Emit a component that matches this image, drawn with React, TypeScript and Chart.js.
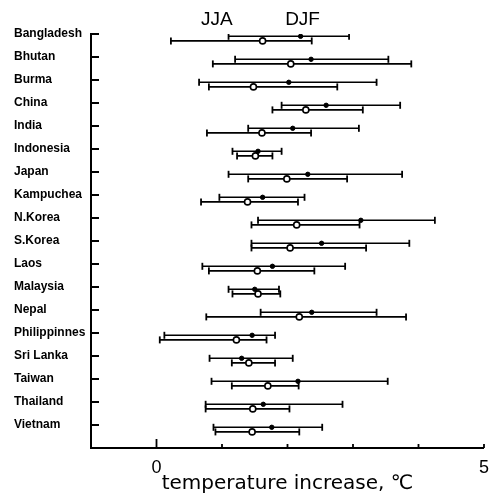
import React, { useEffect, useRef } from 'react';
import { Chart, registerables } from 'chart.js';

Chart.register(...registerables);

// Countries (top to bottom)
const countries = [
  'Bangladesh', 'Bhutan', 'Burma', 'China', 'India', 'Indonesia', 'Japan', 'Kampuchea',
  'N.Korea', 'S.Korea', 'Laos', 'Malaysia', 'Nepal', 'Philippinnes', 'Sri Lanka',
  'Taiwan', 'Thailand', 'Vietnam',
];

// JJA (summer) temperature increase: min / mean / max (°C)
const jjaMin = [0.22, 0.86, 0.80, 1.77, 0.77, 1.23, 1.40, 0.68, 1.45, 1.45, 0.80, 1.16, 0.76, 0.05, 1.15, 1.15, 0.75, 0.90];
const jjaMean = [1.62, 2.05, 1.48, 2.28, 1.61, 1.51, 1.99, 1.39, 2.14, 2.04, 1.54, 1.55, 2.18, 1.22, 1.41, 1.70, 1.47, 1.46];
const jjaMax = [2.37, 3.89, 2.76, 3.15, 2.36, 1.77, 2.91, 2.16, 3.10, 3.20, 2.41, 1.89, 3.81, 1.68, 1.81, 2.17, 2.03, 2.18];

// DJF (winter) temperature increase: min / mean / max (°C)
const djfMin = [1.10, 1.20, 0.65, 1.91, 1.40, 1.16, 1.10, 0.96, 1.55, 1.45, 0.70, 1.10, 1.59, 0.12, 0.81, 0.84, 0.75, 0.87];
const djfMean = [2.20, 2.36, 2.02, 2.59, 2.08, 1.55, 2.31, 1.62, 3.12, 2.52, 1.77, 1.50, 2.37, 1.46, 1.30, 2.16, 1.63, 1.76];
const djfMax = [2.94, 3.54, 3.36, 3.72, 3.09, 1.91, 3.75, 2.26, 4.25, 3.86, 2.88, 1.87, 3.36, 1.81, 2.08, 3.53, 2.84, 2.53];

// Axis labelling
const xShownTicks = [0, 5];
const seasonNames = ['JJA', 'DJF'];
const xTitle = 'temperature increase, \u2103';

const JJA_OFF = 0.3;
const DJF_OFF = 0.1;

function rangePoints(mins: number[], maxs: number[], off: number) {
  const pts: { x: number; y: number | null }[] = [];
  countries.forEach((_, i) => {
    pts.push({ x: mins[i], y: i + off });
    pts.push({ x: maxs[i], y: i + off });
    pts.push({ x: maxs[i], y: null });
  });
  return pts;
}

function meanPoints(means: number[], off: number) {
  return countries.map((_, i) => ({ x: means[i], y: i + off }));
}

const decorPlugin = {
  id: 'decor',
  afterDraw(chart: any) {
    const { ctx, scales } = chart;
    const xs = scales.x;
    const ys = scales.y;
    ctx.save();
    ctx.strokeStyle = '#000';
    ctx.lineWidth = 1.8;
    ctx.beginPath();
    // inward y ticks
    countries.forEach((_, i) => {
      const py = ys.getPixelForValue(i);
      ctx.moveTo(xs.left, py);
      ctx.lineTo(xs.left + 8, py);
    });
    ctx.stroke();
    // inward x ticks
    ctx.beginPath();
    xs.ticks.forEach((t: any) => {
      if (t.value < 0) return;
      const px = xs.getPixelForValue(t.value);
      const len = t.value === 0 ? 9 : 4;
      ctx.moveTo(px, ys.bottom);
      ctx.lineTo(px, ys.bottom - len);
    });
    ctx.stroke();
    // season labels
    ctx.fillStyle = '#000';
    ctx.font = '19px "Liberation Sans", Arial, sans-serif';
    ctx.textAlign = 'center';
    ctx.textBaseline = 'middle';
    const seasonX = [0.92, 2.23];
    seasonNames.forEach((s, k) => {
      ctx.fillText(s, xs.getPixelForValue(seasonX[k]), 20);
    });
    ctx.restore();
  },
};

export default function App() {
  const ref = useRef<HTMLCanvasElement | null>(null);

  useEffect(() => {
    if (!ref.current) return;
    const black = '#000';
    const chart = new Chart(ref.current, {
      type: 'line',
      data: {
        datasets: [
          {
            label: 'JJA mean',
            data: meanPoints(jjaMean, JJA_OFF),
            showLine: false,
            pointStyle: 'circle',
            pointRadius: 3,
            pointBackgroundColor: '#fff',
            pointBorderColor: black,
            pointBorderWidth: 1.6,
            order: 0,
          },
          {
            label: 'DJF mean',
            data: meanPoints(djfMean, DJF_OFF),
            showLine: false,
            pointStyle: 'circle',
            pointRadius: 2.2,
            pointBackgroundColor: black,
            pointBorderColor: black,
            pointBorderWidth: 1,
            order: 0,
          },
          {
            label: 'JJA',
            data: rangePoints(jjaMin, jjaMax, JJA_OFF),
            borderColor: black,
            borderWidth: 1.6,
            spanGaps: false,
            pointStyle: 'line',
            rotation: 90,
            pointRadius: 3.5,
            pointBorderColor: black,
            pointBorderWidth: 1.8,
            order: 1,
          },
          {
            label: 'DJF',
            data: rangePoints(djfMin, djfMax, DJF_OFF),
            borderColor: black,
            borderWidth: 1.6,
            spanGaps: false,
            pointStyle: 'line',
            rotation: 90,
            pointRadius: 3.5,
            pointBorderColor: black,
            pointBorderWidth: 1.8,
            order: 1,
          },
        ] as any,
      },
      options: {
        animation: false,
        responsive: true,
        maintainAspectRatio: false,
        layout: { padding: { left: 14, top: 34, right: 6, bottom: 0 } },
        plugins: {
          legend: { display: false },
          tooltip: { enabled: false },
        },
        scales: {
          x: {
            type: 'linear',
            min: -1,
            max: 5,
            grid: { display: false, drawTicks: false, tickLength: 0 },
            border: { display: true, color: black, width: 2 },
            ticks: {
              stepSize: 1,
              autoSkip: false,
              maxRotation: 0,
              padding: 9,
              color: black,
              font: { family: '"Liberation Sans", Arial, sans-serif', size: 18 },
              callback: (v: any) => (xShownTicks.includes(Number(v)) ? String(v) : ''),
            },
            title: {
              display: true,
              text: xTitle,
              color: black,
              font: { family: '"DejaVu Sans", sans-serif', size: 20 },
              padding: { top: 0, bottom: 5 },
            },
            afterFit: (s: any) => { s.height = 53; },
          },
          y: {
            type: 'linear',
            reverse: true,
            min: 0,
            max: 18,
            grid: { display: false, drawTicks: false, tickLength: 0 },
            border: { display: true, color: black, width: 2 },
            ticks: {
              stepSize: 1,
              autoSkip: false,
              crossAlign: 'far',
              padding: 0,
              color: black,
              font: { family: '"Liberation Sans", Arial, sans-serif', size: 12, weight: 'bold' },
              callback: (v: any) => countries[Number(v)] ?? '',
            },
            afterFit: (s: any) => { s.width = 77; },
          },
        },
      } as any,
      plugins: [decorPlugin],
    });
    return () => chart.destroy();
  }, []);

  return (
    <div style={{ position: 'absolute', left: 0, top: 0, width: 498, height: 501, background: '#fff' }}>
      <canvas ref={ref} />
    </div>
  );
}
